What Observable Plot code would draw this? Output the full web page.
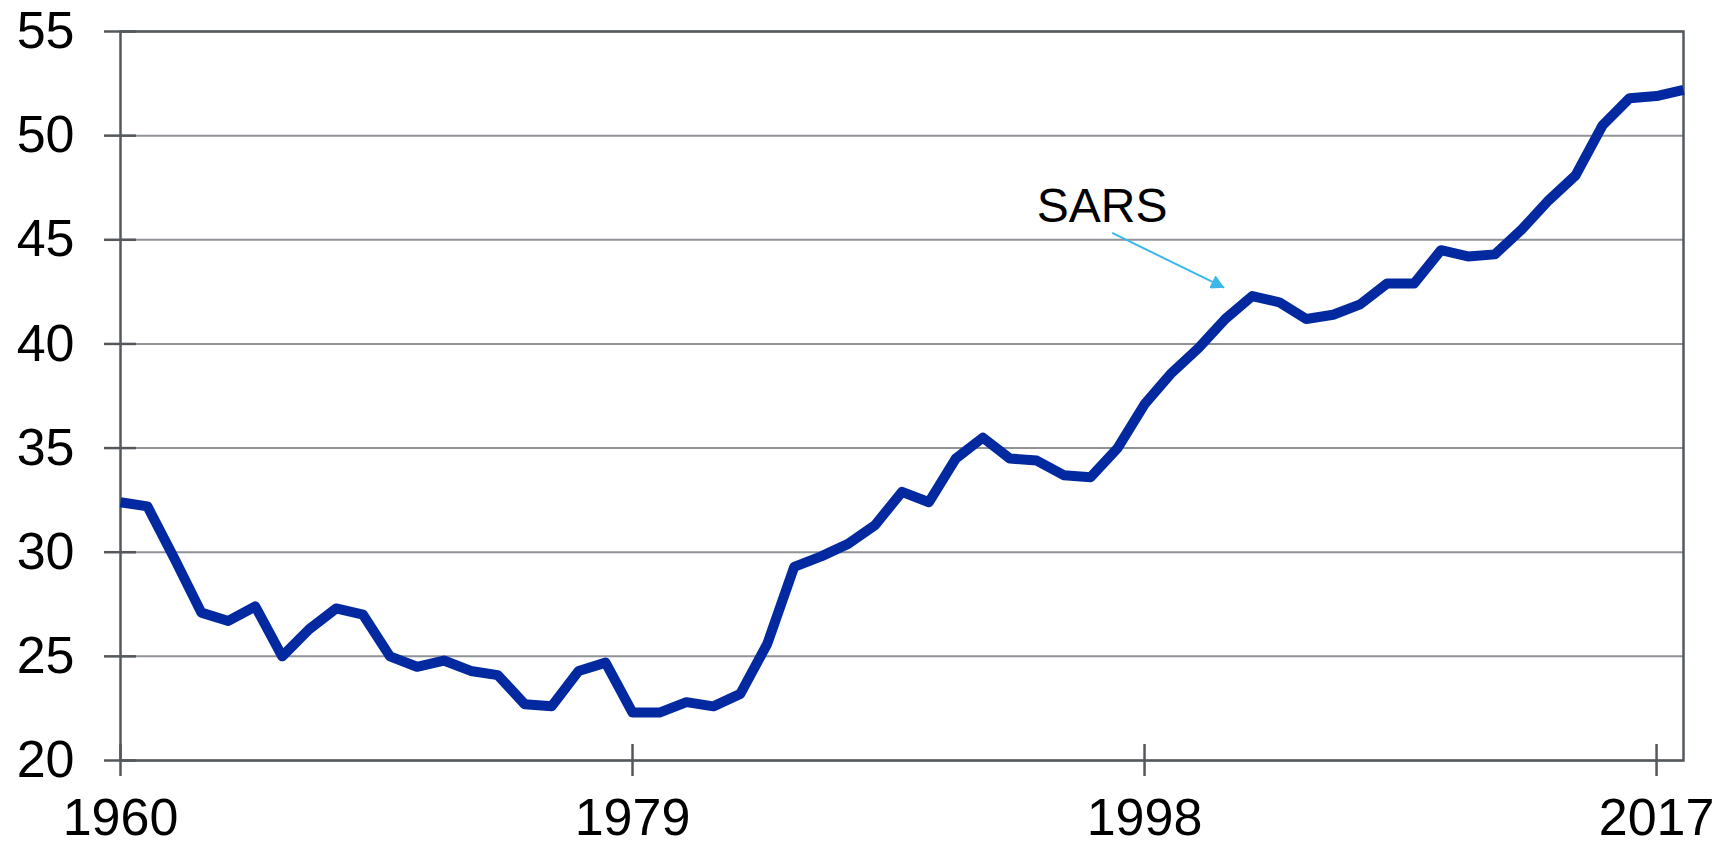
<!DOCTYPE html>
<html>
<head>
<meta charset="utf-8">
<script src="https://cdn.jsdelivr.net/npm/d3@7"></script>
<script src="https://cdn.jsdelivr.net/npm/@observablehq/plot@0.6"></script>
<style>
  html, body { margin: 0; padding: 0; background: #fff; overflow: hidden; }
  #chart { width: 1729px; height: 845px; }
</style>
</head>
<body>
<div id="chart"></div>
<script>
// ---- data ----
const years = [
  1960, 1961, 1962, 1963, 1964, 1965, 1966, 1967, 1968, 1969,
  1970, 1971, 1972, 1973, 1974, 1975, 1976, 1977, 1978, 1979,
  1980, 1981, 1982, 1983, 1984, 1985, 1986, 1987, 1988, 1989,
  1990, 1991, 1992, 1993, 1994, 1995, 1996, 1997, 1998, 1999,
  2000, 2001, 2002, 2003, 2004, 2005, 2006, 2007, 2008, 2009,
  2010, 2011, 2012, 2013, 2014, 2015, 2016, 2017, 2018
];
const values = [
  32.4, 32.2, 29.7, 27.1, 26.7, 27.4, 25.0, 26.3, 27.3, 27.0,
  25.0, 24.5, 24.8, 24.3, 24.1, 22.7, 22.6, 24.3, 24.7, 22.3,
  22.3, 22.8, 22.6, 23.2, 25.6, 29.3, 29.8, 30.4, 31.3, 32.9,
  32.4, 34.5, 35.5, 34.5, 34.4, 33.7, 33.6, 35.0, 37.1, 38.6,
  39.8, 41.2, 42.3, 42.0, 41.2, 41.4, 41.9, 42.9, 42.9, 44.5,
  44.2, 44.3, 45.5, 46.9, 48.1, 50.5, 51.8, 51.9, 52.2
];
const xTicks = [1960, 1979, 1998, 2017];
const yTicks = [20, 25, 30, 35, 40, 45, 50, 55];
const xDomain = [1960, 2018];
const yDomain = [20, 55];

// annotation (data coordinates)
const noteLabel = ["SARS"];
const noteText = [{x: 1994.0, y: 46.6}];
const noteArrow = [{x1: 1996.8, y1: 45.33, x2: 2000.96, y2: 42.7}];

const data = years.map((year, i) => ({year, value: values[i]}));

const axisColor = "#54585d";
const gridColor = "#8f9296";
const lineColor = "#0329a0";
const arrowColor = "#3db7e9";
const font = "'Liberation Sans', Arial, Helvetica, sans-serif";

const chart = Plot.plot({
  width: 1729,
  height: 845,
  marginLeft: 120,
  marginRight: 46,
  marginTop: 31,
  marginBottom: 85,
  style: {fontFamily: font, background: "#fff", color: "#000", overflow: "visible"},
  x: {domain: xDomain},
  y: {domain: yDomain},
  marks: [
    Plot.ruleY(yTicks, {stroke: gridColor, strokeWidth: 2}),
    Plot.frame({stroke: axisColor, strokeWidth: 2.5}),
    Plot.axisY({ticks: yTicks, tickSize: 32, dx: 16, tickPadding: 30,
      stroke: axisColor, strokeWidth: 2.5, fill: "#000", fontSize: 52, tickFormat: d => String(d)}),
    Plot.axisX({ticks: xTicks, tickSize: 32, dy: -16, tickPadding: 22,
      stroke: axisColor, strokeWidth: 2.5, fill: "#000", fontSize: 52, tickFormat: d => String(d)}),
    Plot.line(data, {x: "year", y: "value", stroke: lineColor, strokeWidth: 10,
      strokeLinecap: "butt", strokeLinejoin: "round"}),
    Plot.link(noteArrow, {x1: "x1", y1: "y1", x2: "x2", y2: "y2",
      stroke: arrowColor, strokeWidth: 2, markerEnd: "arrow"}),
    Plot.text(noteText, {x: "x", y: "y", text: (d, i) => noteLabel[i], textAnchor: "start",
      lineAnchor: "middle", fontSize: 48, fill: "#000"})
  ]
});

// turn the open arrow marker into a filled triangle head
chart.querySelectorAll("marker").forEach(m => {
  m.setAttribute("viewBox", "-10 -5 10 10");
  m.setAttribute("fill", arrowColor);
  m.setAttribute("stroke", "none");
  const p = m.querySelector("path");
  if (p) p.setAttribute("d", "M-10,-5.5L0,0L-10,5.5Z");
});

document.getElementById("chart").appendChild(chart);
</script>
</body>
</html>
